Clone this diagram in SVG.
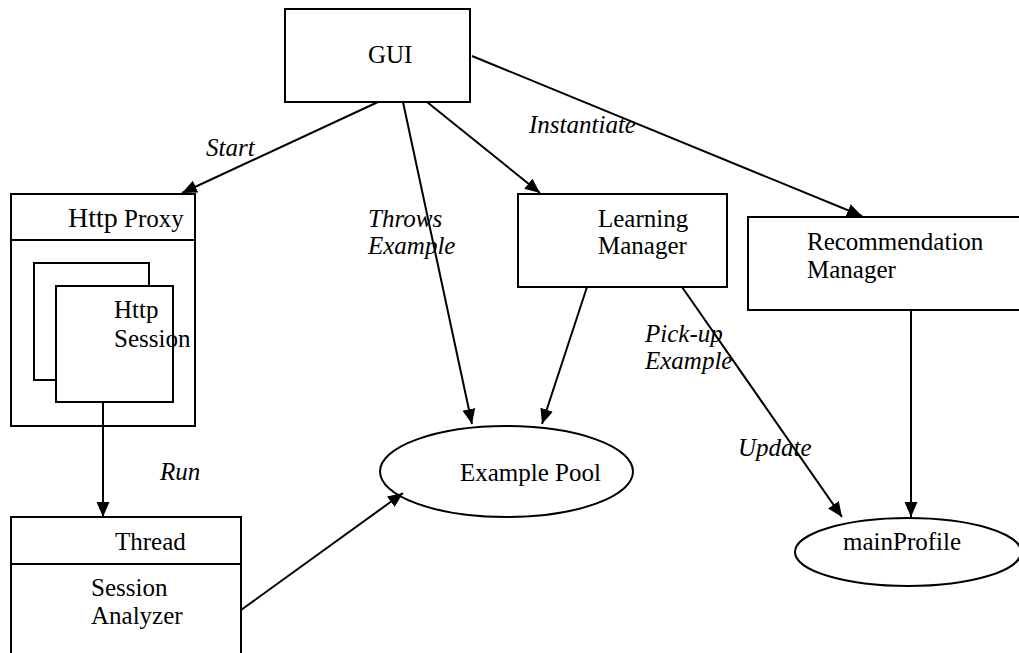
<svg xmlns="http://www.w3.org/2000/svg" width="1019" height="653" viewBox="0 0 1019 653">
<defs>
<marker id="ah" markerUnits="userSpaceOnUse" markerWidth="16" markerHeight="14" refX="15" refY="6.5" orient="auto">
<path d="M0,0 L15,6.5 L0,13 z" fill="#000"/>
</marker>
<style>
.box{fill:#fff;stroke:#000;stroke-width:2}
.t{font-family:"Liberation Serif","Times New Roman",serif;font-size:25px;fill:#000}
.l{font-family:"Liberation Serif","Times New Roman",serif;font-size:25px;font-style:italic;fill:#000}
.c{fill:none;stroke:#000;stroke-width:2;marker-end:url(#ah)}
</style>
</defs>
<rect width="1019" height="653" fill="#fff"/>
<g id="gui">
<rect class="box" x="285" y="9" width="185" height="93"/>
<text class="t" x="368" y="63">GUI</text>
</g>
<g id="http-proxy">
<rect class="box" x="11" y="194" width="184" height="232"/>
<line x1="11" y1="240" x2="195" y2="240" stroke="#000" stroke-width="2"/>
<text class="t" x="68" y="227"><tspan font-size="28">Http</tspan> Proxy</text>
</g>
<g id="http-session">
<rect class="box" x="34" y="263" width="115" height="117"/>
<rect class="box" x="56" y="286" width="117" height="116"/>
<text class="t" x="114" y="318">Http</text>
<text class="t" x="114" y="347">Session</text>
</g>
<g id="thread">
<rect class="box" x="11" y="517" width="230" height="150"/>
<line x1="11" y1="564" x2="241" y2="564" stroke="#000" stroke-width="2"/>
<text class="t" x="115" y="550">Thread</text>
<text class="t" x="91" y="596">Session</text>
<text class="t" x="91" y="624">Analyzer</text>
</g>
<g id="learning-manager">
<rect class="box" x="518" y="194" width="209" height="93"/>
<text class="t" x="598" y="227">Learning</text>
<text class="t" x="598" y="254">Manager</text>
</g>
<g id="recommendation-manager">
<rect class="box" x="748" y="217" width="290" height="93"/>
<text class="t" x="807" y="250">Recommendation</text>
<text class="t" x="807" y="278">Manager</text>
</g>
<g id="example-pool">
<ellipse class="box" cx="506.5" cy="471.5" rx="126.5" ry="45.5"/>
<text class="t" x="460" y="481">Example Pool</text>
</g>
<g id="main-profile">
<ellipse class="box" cx="908" cy="552" rx="113" ry="34"/>
<text class="t" x="843" y="550">mainProfile</text>
</g>
<g id="connectors">
<line class="c" x1="378" y1="102" x2="182" y2="193"/>
<line class="c" x1="403" y1="102" x2="472" y2="424"/>
<line class="c" x1="427" y1="102" x2="540" y2="193"/>
<line class="c" x1="472" y1="56" x2="862" y2="216"/>
<line class="c" x1="103" y1="402" x2="103" y2="517"/>
<line class="c" x1="241" y1="610" x2="403" y2="493"/>
<line class="c" x1="587" y1="287" x2="542" y2="424"/>
<line class="c" x1="682" y1="287" x2="842" y2="517"/>
<line class="c" x1="911" y1="310" x2="911" y2="517"/>
<text class="l" x="206" y="156">Start</text>
<text class="l" x="368" y="227">Throws</text>
<text class="l" x="368" y="254">Example</text>
<text class="l" x="529" y="133">Instantiate</text>
<text class="l" x="160" y="480">Run</text>
<text class="l" x="645" y="342">Pick-up</text>
<text class="l" x="645" y="369">Example</text>
<text class="l" x="738" y="456">Update</text>
</g>
</svg>
